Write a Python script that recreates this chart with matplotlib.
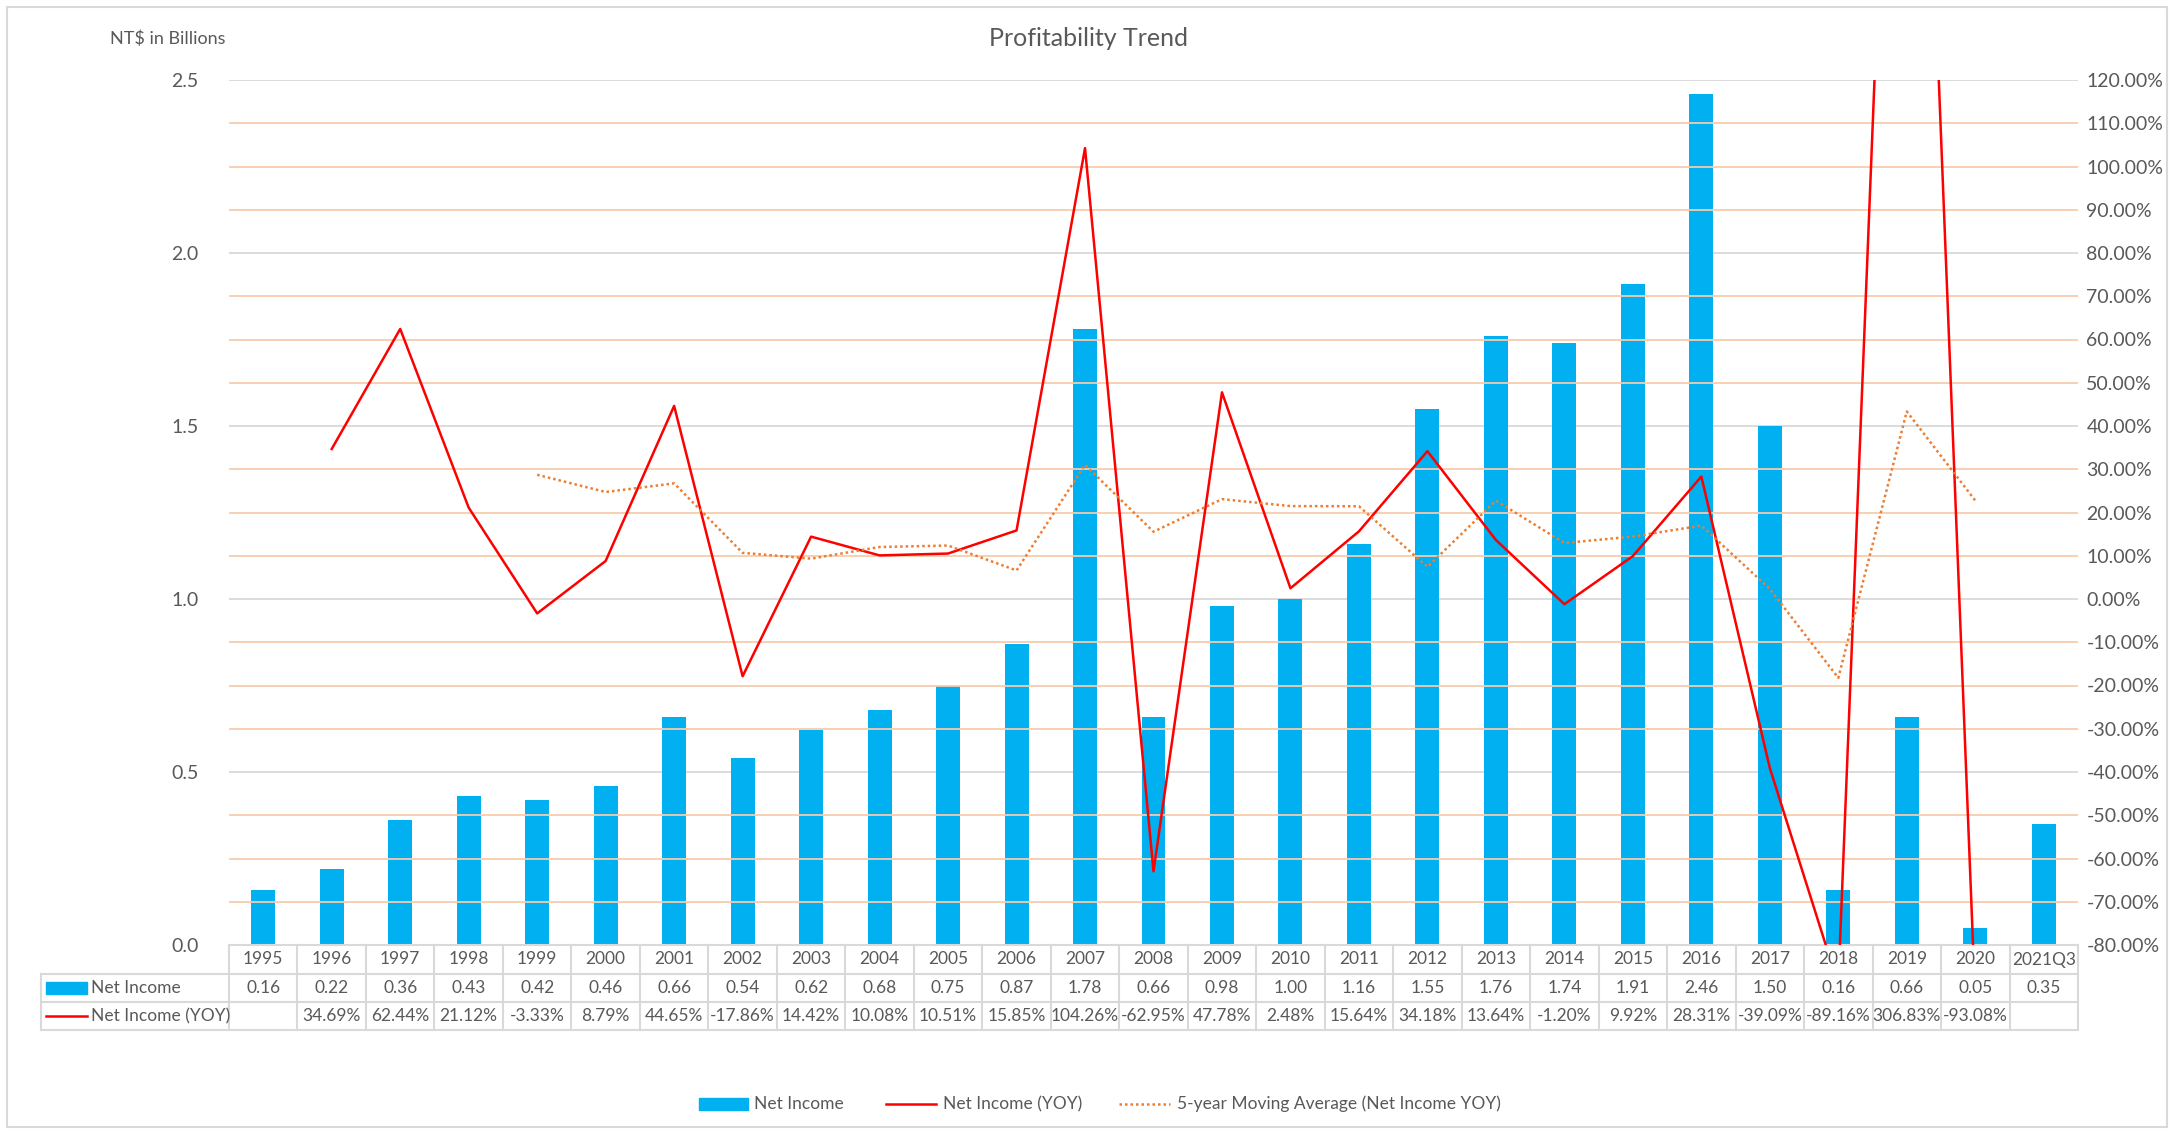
import matplotlib
matplotlib.use("Agg")
import matplotlib.pyplot as plt
from matplotlib.patches import Rectangle
from matplotlib.lines import Line2D
import numpy as np

plt.rcParams['font.family'] = ['Lato', 'DejaVu Sans']

years = ["1995", "1996", "1997", "1998", "1999", "2000", "2001", "2002", "2003", "2004",
         "2005", "2006", "2007", "2008", "2009", "2010", "2011", "2012", "2013", "2014",
         "2015", "2016", "2017", "2018", "2019", "2020", "2021Q3"]
net_income = [0.16, 0.22, 0.36, 0.43, 0.42, 0.46, 0.66, 0.54, 0.62, 0.68, 0.75, 0.87, 1.78,
              0.66, 0.98, 1.00, 1.16, 1.55, 1.76, 1.74, 1.91, 2.46, 1.50, 0.16, 0.66, 0.05, 0.35]
yoy = [None, 34.69, 62.44, 21.12, -3.33, 8.79, 44.65, -17.86, 14.42, 10.08, 10.51, 15.85,
       104.26, -62.95, 47.78, 2.48, 15.64, 34.18, 13.64, -1.20, 9.92, 28.31, -39.09, -89.16,
       306.83, -93.08, None]
ma5 = [None, None, None, None, 28.73, 24.74, 26.73, 10.67, 9.33, 12.02, 12.36, 6.60, 31.02,
       15.55, 23.09, 21.48, 21.44, 7.43, 22.74, 12.95, 14.44, 16.97, 2.32, -18.24, 43.36,
       22.76, None]

TXT = '#595959'
GRID_G = '#D9D9D9'
GRID_O = '#F8CBAD'

W, H = 2172, 1129
fig = plt.figure(figsize=(W / 100, H / 100), dpi=100)
L, R, T, B = 229, 2078, 80, 945
ax = fig.add_axes([L / W, 1 - B / H, (R - L) / W, (B - T) / H])
ax2 = ax.twinx()

n = len(years)
x = np.arange(n)

ax.set_xlim(-0.5, n - 0.5)
ax.set_ylim(0, 2.5)
ax2.set_ylim(-80, 120)

for v in np.arange(-80, 121, 10):
    if (v + 80) % 40 != 0:
        ax2.axhline(v, color=GRID_O, lw=1.3, zorder=0)
for v in np.arange(0, 2.51, 0.5):
    ax.axhline(v, color=GRID_G, lw=1.3, zorder=0)

ax.bar(x, net_income, width=0.35, color='#00B0F0', zorder=2)

ax.set_zorder(1)
ax2.set_zorder(2)
ax.patch.set_visible(False)
ax2.patch.set_visible(False)

yv = np.array([np.nan if v is None else v for v in yoy], dtype=float)
mv = np.array([np.nan if v is None else v for v in ma5], dtype=float)
ax2.plot(x, yv, color='#FF0000', lw=1.8, zorder=3)
ax2.plot(x, mv, color='#ED7D31', lw=1.8, ls=(0, (1, 1.2)), zorder=3)

for a in (ax, ax2):
    for s in a.spines.values():
        s.set_visible(False)
ax.set_xticks([])
ax.set_yticks(np.arange(0, 2.51, 0.5))
ax.set_yticklabels([f"{v:.1f}" for v in np.arange(0, 2.51, 0.5)])
ax.tick_params(axis='y', length=0, pad=22, labelsize=14, labelcolor=TXT)
ax2.set_yticks(np.arange(-80, 121, 10))
ax2.set_yticklabels([f"{v:.2f}%" for v in np.arange(-80, 121, 10)])
ax2.tick_params(axis='y', length=0, pad=6, labelsize=14, labelcolor=TXT)

def fx(px):
    return px / W
def fy(py):
    return 1 - py / H

colw = (R - L) / n
rows_y = [945, 974, 1002, 1030]
tl = 41
lc = dict(color=GRID_G, lw=1.5, transform=fig.transFigure)
fig.add_artist(Line2D([fx(L), fx(R)], [fy(945), fy(945)], **lc))
for ry in rows_y[1:]:
    fig.add_artist(Line2D([fx(tl), fx(R)], [fy(ry), fy(ry)], **lc))
for i in range(n + 1):
    xx = L + i * colw
    fig.add_artist(Line2D([fx(xx), fx(xx)], [fy(945), fy(1030)], **lc))
fig.add_artist(Line2D([fx(tl), fx(tl)], [fy(974), fy(1030)], **lc))

fs_t = 12.5
for i in range(n):
    cx = fx(L + (i + 0.5) * colw)
    fig.text(cx, fy((rows_y[0] + rows_y[1]) / 2), years[i], ha='center', va='center',
             fontsize=fs_t, color=TXT)
    fig.text(cx, fy((rows_y[1] + rows_y[2]) / 2), f"{net_income[i]:.2f}", ha='center',
             va='center', fontsize=fs_t, color=TXT)
    if yoy[i] is not None:
        fig.text(cx, fy((rows_y[2] + rows_y[3]) / 2), f"{yoy[i]:.2f}%", ha='center',
                 va='center', fontsize=fs_t, color=TXT)

fig.add_artist(Rectangle((fx(46), fy(994)), fx(41), 12 / H,
                         transform=fig.transFigure, color='#00B0F0'))
fig.text(fx(91), fy(988), "Net Income", ha='left', va='center', fontsize=fs_t, color=TXT)
fig.add_artist(Line2D([fx(46), fx(87)], [fy(1016), fy(1016)], color='#FF0000', lw=1.8,
                      transform=fig.transFigure))
fig.text(fx(91), fy(1016), "Net Income (YOY)", ha='left', va='center', fontsize=fs_t, color=TXT)

fig.text(fx(1088), fy(39), "Profitability Trend", ha='center', va='center', fontsize=18, color=TXT)
fig.text(fx(110), fy(39), "NT$ in Billions", ha='left', va='center', fontsize=13, color=TXT)

ly = fy(1104)
fs_l = 12.5
fig.add_artist(Rectangle((fx(699), fy(1110)), fx(49), 12 / H, transform=fig.transFigure,
                         color='#00B0F0'))
fig.text(fx(754), ly, "Net Income", ha='left', va='center', fontsize=fs_l, color=TXT)
fig.add_artist(Line2D([fx(886), fx(936)], [ly, ly], color='#FF0000', lw=1.8,
                      transform=fig.transFigure))
fig.text(fx(943), ly, "Net Income (YOY)", ha='left', va='center', fontsize=fs_l, color=TXT)
fig.add_artist(Line2D([fx(1119), fx(1170)], [ly, ly], color='#ED7D31', lw=1.8,
                      ls=(0, (1, 1.2)), transform=fig.transFigure))
fig.text(fx(1177), ly, "5-year Moving Average (Net Income YOY)", ha='left', va='center',
         fontsize=fs_l, color=TXT)

fig.add_artist(Rectangle((fx(7), fy(1127)), fx(2160), 1120 / H, transform=fig.transFigure,
                         fill=False, edgecolor=GRID_G, lw=1.5))

fig.savefig("out.png", dpi=100)
